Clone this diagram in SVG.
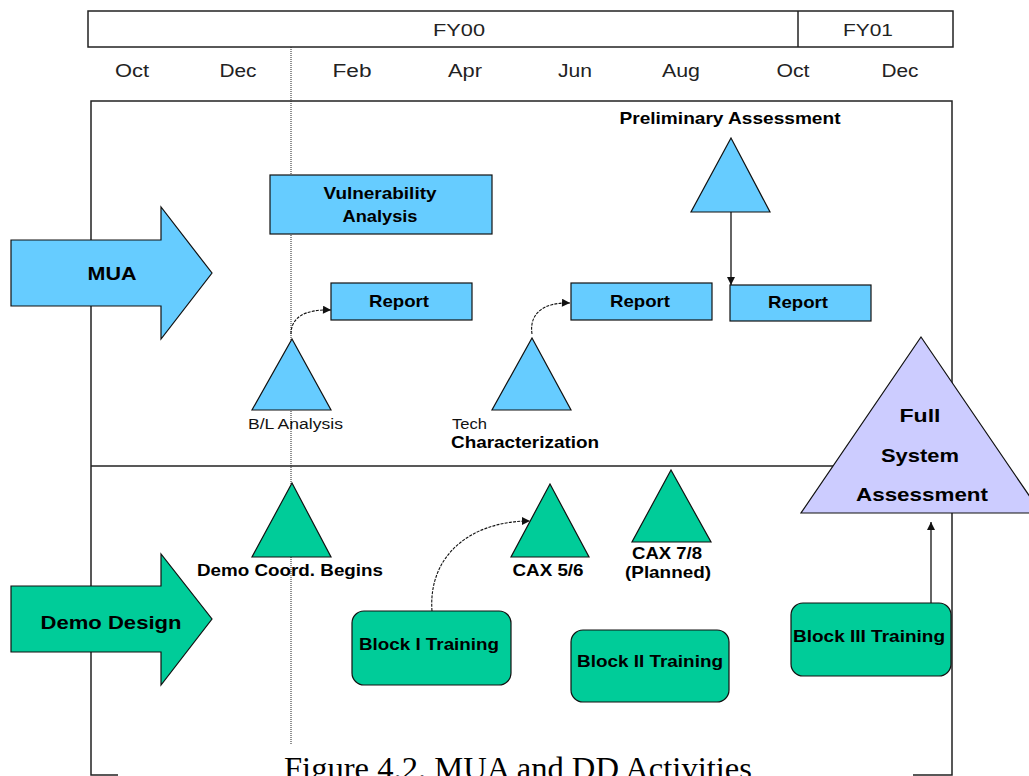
<svg xmlns="http://www.w3.org/2000/svg" width="1029" height="776" viewBox="0 0 1029 776">
  <defs>
    <style>
      .bg { fill: #ffffff; }
      .frame { fill: none; stroke: #222; stroke-width: 1.5; }
      .guide { fill: none; stroke: #222; stroke-width: 1; stroke-dasharray: 1 1; }
      .blue { fill: #66CCFF; stroke: #111; stroke-width: 1.2; }
      .green { fill: #00CC99; stroke: #111; stroke-width: 1.2; }
      .lav { fill: #CCCCFF; stroke: #111; stroke-width: 1.2; }
      .conn { fill: none; stroke: #111; stroke-width: 1.3; }
      .curve { fill: none; stroke: #111; stroke-width: 1.1; stroke-dasharray: 3 1.2; }
      .hdr { font-family: "Liberation Sans", Arial, sans-serif; font-size: 17px; fill: #222; text-anchor: middle; }
      .mon { font-family: "Liberation Sans", Arial, sans-serif; font-size: 18px; fill: #222; text-anchor: middle; }
      .lbl { font-family: "Liberation Sans", Arial, sans-serif; font-size: 17px; font-weight: bold; fill: #000; text-anchor: middle; }
      .big { font-family: "Liberation Sans", Arial, sans-serif; font-size: 19px; font-weight: bold; fill: #000; text-anchor: middle; }
      .small { font-family: "Liberation Sans", Arial, sans-serif; font-size: 14px; fill: #111; }
      .cap { font-family: "Liberation Serif", "Times New Roman", serif; font-size: 32px; fill: #000; }
    </style>
    <marker id="head" viewBox="0 0 10 10" refX="10" refY="5" markerUnits="userSpaceOnUse" markerWidth="9" markerHeight="8" orient="auto">
      <path d="M0,0 L10,5 L0,10 z" fill="#111"/>
    </marker>
  </defs>

  <rect class="bg" x="0" y="0" width="1029" height="776"/>

  <!-- timeline header -->
  <g id="timeline">
    <rect class="frame" x="88" y="11" width="865" height="36"/>
    <line class="frame" x1="798" y1="11" x2="798" y2="47"/>
    <text class="hdr" x="459" y="36" textLength="52" lengthAdjust="spacingAndGlyphs">FY00</text>
    <text class="hdr" x="868" y="36" textLength="50" lengthAdjust="spacingAndGlyphs">FY01</text>
    <text class="mon" x="132" y="77" textLength="34" lengthAdjust="spacingAndGlyphs">Oct</text>
    <text class="mon" x="238" y="77" textLength="37" lengthAdjust="spacingAndGlyphs">Dec</text>
    <text class="mon" x="352" y="77" textLength="39" lengthAdjust="spacingAndGlyphs">Feb</text>
    <text class="mon" x="465" y="77" textLength="34" lengthAdjust="spacingAndGlyphs">Apr</text>
    <text class="mon" x="575" y="77" textLength="34" lengthAdjust="spacingAndGlyphs">Jun</text>
    <text class="mon" x="681" y="77" textLength="38" lengthAdjust="spacingAndGlyphs">Aug</text>
    <text class="mon" x="793" y="77" textLength="33" lengthAdjust="spacingAndGlyphs">Oct</text>
    <text class="mon" x="900" y="77" textLength="37" lengthAdjust="spacingAndGlyphs">Dec</text>
  </g>

  <!-- swimlane frame, lane divider and the dotted "now" line -->
  <g id="frame">
    <path class="frame" d="M118,775 H91 V101 H952 V775 H913"/>
    <line class="frame" x1="91" y1="466" x2="952" y2="466"/>
    <line class="guide" x1="291" y1="47" x2="291" y2="744"/>
  </g>

  <!-- connectors -->
  <g id="connectors">
    <path class="curve" d="M291,334 C291,318 304,309 331,310" marker-end="url(#head)"/>
    <path class="curve" d="M532,334 C529,314 543,302 570,303" marker-end="url(#head)"/>
    <line class="conn" x1="731" y1="212" x2="731" y2="285" marker-end="url(#head)"/>
    <path class="curve" d="M432,611 C428,556 470,521 530,521" marker-end="url(#head)"/>
    <line class="conn" x1="931" y1="603" x2="931" y2="522" marker-end="url(#head)"/>
  </g>

  <!-- MUA lane -->
  <g id="mua">
    <polygon class="blue" points="11,240 161,240 161,207 212,273 161,339 161,306 11,306"/>
    <text class="big" x="112" y="280" textLength="49" lengthAdjust="spacingAndGlyphs">MUA</text>
  </g>

  <g id="vulnerability-analysis">
    <rect class="blue" x="270" y="175" width="222" height="59"/>
    <text class="lbl" x="380" y="199" textLength="113" lengthAdjust="spacingAndGlyphs">Vulnerability</text>
    <text class="lbl" x="380" y="222" textLength="75" lengthAdjust="spacingAndGlyphs">Analysis</text>
  </g>

  <g id="report-1">
    <rect class="blue" x="331" y="283" width="141" height="37"/>
    <text class="lbl" x="399" y="307" textLength="60" lengthAdjust="spacingAndGlyphs">Report</text>
  </g>

  <g id="report-2">
    <rect class="blue" x="571" y="283" width="141" height="37"/>
    <text class="lbl" x="640" y="307" textLength="60" lengthAdjust="spacingAndGlyphs">Report</text>
  </g>

  <g id="report-3">
    <rect class="blue" x="730" y="285" width="141" height="36"/>
    <text class="lbl" x="798" y="308" textLength="60" lengthAdjust="spacingAndGlyphs">Report</text>
  </g>

  <g id="preliminary-assessment">
    <polygon class="blue" points="731,138 770,212 691,212"/>
    <text class="lbl" x="730" y="124" textLength="221" lengthAdjust="spacingAndGlyphs">Preliminary Assessment</text>
  </g>

  <g id="bl-analysis">
    <polygon class="blue" points="292,339 331,410 252,410"/>
    <text class="small" x="248" y="429" textLength="95" lengthAdjust="spacingAndGlyphs">B/L Analysis</text>
  </g>

  <g id="tech-characterization">
    <polygon class="blue" points="532,338 571,410 492,410"/>
    <text class="small" x="452" y="429" textLength="35" lengthAdjust="spacingAndGlyphs">Tech</text>
    <text class="lbl" x="451" y="448" text-anchor="start" style="text-anchor:start" textLength="148" lengthAdjust="spacingAndGlyphs">Characterization</text>
  </g>

  <!-- Demo Design lane -->
  <g id="demo-design">
    <polygon class="green" points="11,586 161,586 161,554 212,619 161,685 161,652 11,652"/>
    <text class="big" x="111" y="629" textLength="141" lengthAdjust="spacingAndGlyphs">Demo Design</text>
  </g>

  <g id="demo-coord">
    <polygon class="green" points="292,483 331,557 252,557"/>
    <text class="lbl" x="290" y="576" textLength="186" lengthAdjust="spacingAndGlyphs">Demo Coord. Begins</text>
  </g>

  <g id="cax-5-6">
    <polygon class="green" points="550,484 589,557 511,557"/>
    <text class="lbl" x="548" y="576" textLength="71" lengthAdjust="spacingAndGlyphs">CAX 5/6</text>
  </g>

  <g id="cax-7-8">
    <polygon class="green" points="671,470 711,542 632,542"/>
    <text class="lbl" x="667" y="559" textLength="70" lengthAdjust="spacingAndGlyphs">CAX 7/8</text>
    <text class="lbl" x="668" y="578" textLength="86" lengthAdjust="spacingAndGlyphs">(Planned)</text>
  </g>

  <g id="block-1-training">
    <rect class="green" x="352" y="611" width="159" height="74" rx="12" ry="12"/>
    <text class="lbl" x="429" y="650" textLength="140" lengthAdjust="spacingAndGlyphs">Block I Training</text>
  </g>

  <g id="block-2-training">
    <rect class="green" x="571" y="630" width="158" height="72" rx="12" ry="12"/>
    <text class="lbl" x="650" y="667" textLength="146" lengthAdjust="spacingAndGlyphs">Block II Training</text>
  </g>

  <g id="block-3-training">
    <rect class="green" x="791" y="603" width="160" height="73" rx="12" ry="12"/>
    <text class="lbl" x="869" y="642" textLength="152" lengthAdjust="spacingAndGlyphs">Block III Training</text>
  </g>

  <g id="full-system-assessment">
    <polygon class="lav" points="921,337 1041,513 801,513"/>
    <text class="big" x="920" y="422" textLength="41" lengthAdjust="spacingAndGlyphs">Full</text>
    <text class="big" x="920" y="462" textLength="78" lengthAdjust="spacingAndGlyphs">System</text>
    <text class="big" x="922" y="501" textLength="132" lengthAdjust="spacingAndGlyphs">Assessment</text>
  </g>

  <!-- figure caption, partly below the bottom edge -->
  <text class="cap" x="284" y="779" textLength="468" lengthAdjust="spacingAndGlyphs">Figure 4.2.  MUA and DD Activities</text>
</svg>
